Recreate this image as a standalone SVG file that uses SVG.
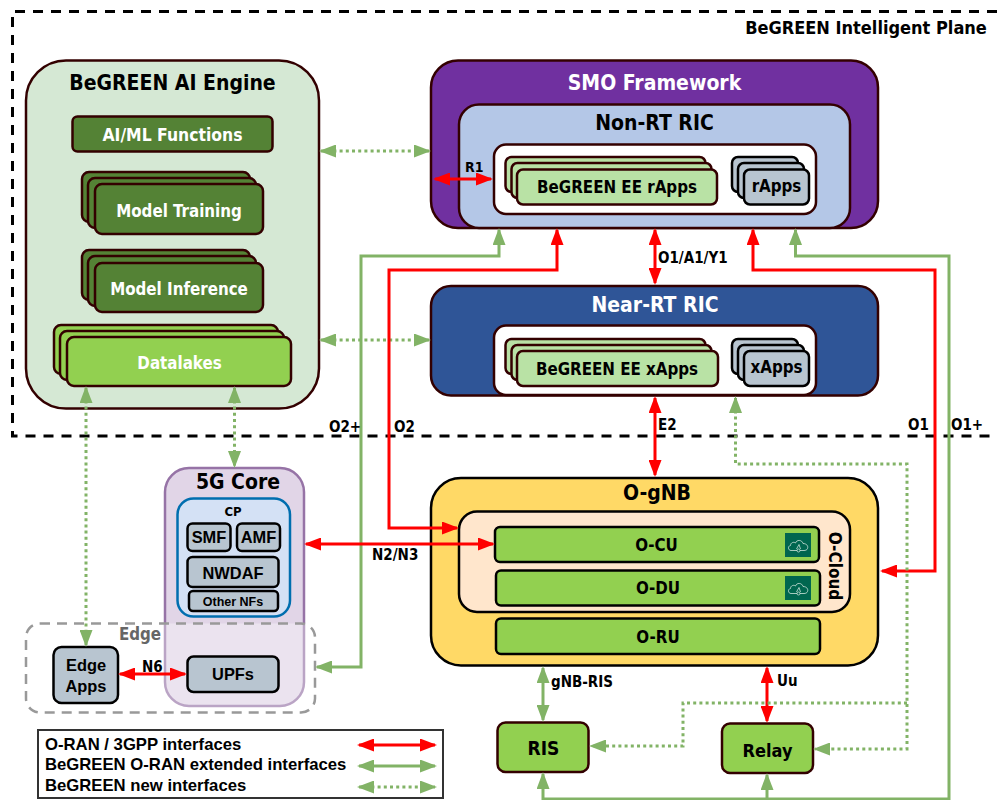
<svg xmlns="http://www.w3.org/2000/svg" width="997" height="800" viewBox="0 0 997 800">
<style>
text{font-family:"DejaVu Sans Condensed","DejaVu Sans",sans-serif;font-weight:700;text-anchor:middle;fill:#000;font-size:16.8px}
.ar{font-family:"Liberation Sans",Arial,sans-serif;font-size:16.4px}
.w{fill:#fff}
.h{font-size:21px}
.lb{font-size:15px;text-anchor:start}
.lg{font-size:16.7px;text-anchor:start}
.box{stroke:#330000;stroke-width:2.5}
.dk{fill:#548235}
.lt{fill:#92d050}
.pg{fill:#b9e2a5}
.gy{fill:#b8c5d0}
.bk{stroke:#000;stroke-width:2.5}
.c{fill:none;stroke-width:3}
.red{stroke:#ff0000;marker-start:url(#rh);marker-end:url(#rh)}
.grn{stroke:#82b366;marker-start:url(#gh);marker-end:url(#gh)}
.dot{stroke-dasharray:3 3.2}
</style>
<defs>
<marker id="rh" markerUnits="userSpaceOnUse" markerWidth="17" markerHeight="13" viewBox="0 0 17 13" refX="15" refY="6.500" orient="auto-start-reverse"><path d="M0 0L17 6.500L0 13Z" fill="#ff0000"/></marker>
<marker id="gh" markerUnits="userSpaceOnUse" markerWidth="17" markerHeight="13" viewBox="0 0 17 13" refX="15" refY="6.500" orient="auto-start-reverse"><path d="M0 0L17 6.500L0 13Z" fill="#82b366"/></marker>
<symbol id="cloud" viewBox="0 0 26 24"><rect width="26" height="24" fill="#00664f"/><path d="M6 17.500C3 17.500 2.500 13 5.500 12.500C5.500 9.500 9 8.500 10.500 10C11.500 6.500 17 6.500 18 10.500C21.500 10.500 23.500 13 22.500 15.500C22 17 20.500 17.500 19 17.500ZM11.500 16L14 11.500L15.500 16" fill="none" stroke="#cfe3da" stroke-width=".8"/><circle cx="13.500" cy="17.500" r="1.500" fill="#00664f" stroke="#cfe3da" stroke-width=".8"/></symbol>
</defs>
<rect width="997" height="800" fill="#fff"/>
<g id="boundary">
<path d="M997 11.500H12.500V436H997" fill="none" stroke="#000" stroke-width="3" stroke-dasharray="10 8"/>
<text x="866" y="34" style="font-size:18px">BeGREEN Intelligent Plane</text>
</g>
<g id="ai-engine">
<rect x="26" y="60.500" width="293" height="348" rx="40" fill="#d5e8d4" class="box"/>
<text class="h" x="172.500" y="90">BeGREEN AI Engine</text>
</g>
<g id="ai-ml-functions">
<rect x="72.500" y="116.500" width="200" height="35" rx="5" class="box dk"/>
<text class="w" x="172.500" y="141" style="font-size:17.400px">AI/ML Functions</text>
</g>
<g id="model-training">
<rect x="82" y="172" width="168" height="50" rx="7" class="box dk"/>
<rect x="88" y="178" width="168" height="50" rx="7" class="box dk"/>
<rect x="95" y="184" width="168" height="50" rx="7" class="box dk"/>
<text class="w" x="179" y="217">Model Training</text>
</g>
<g id="model-inference">
<rect x="82" y="250" width="168" height="50" rx="7" class="box dk"/>
<rect x="88" y="256" width="168" height="50" rx="7" class="box dk"/>
<rect x="95" y="263" width="168" height="49" rx="7" class="box dk"/>
<text class="w" x="179" y="295">Model Inference</text>
</g>
<g id="datalakes">
<rect x="54" y="325" width="224" height="49" rx="7" class="box lt"/>
<rect x="60" y="331" width="224" height="49" rx="7" class="box lt"/>
<rect x="67" y="337" width="224" height="49" rx="7" class="box lt"/>
<text class="w" x="179.500" y="369">Datalakes</text>
</g>
<g id="smo">
<rect x="431" y="60.500" width="447" height="167.500" rx="27" fill="#7030a0" class="box"/>
<text class="w h" x="654.500" y="90">SMO Framework</text>
</g>
<g id="non-rt-ric">
<rect x="459" y="104.500" width="391" height="123.500" rx="20" fill="#b4c7e7" class="box"/>
<text class="h" x="654.500" y="130">Non-RT RIC</text>
<rect x="494" y="144.500" width="322" height="69.500" rx="12" fill="#fff" class="box"/>
</g>
<g id="ee-rapps">
<rect x="505.500" y="157" width="200" height="35" rx="6" class="box pg"/>
<rect x="511.500" y="163" width="200" height="35" rx="6" class="box pg"/>
<rect x="517" y="169.500" width="200" height="35" rx="6" class="box pg"/>
<text x="617" y="193">BeGREEN EE rApps</text>
</g>
<g id="rapps">
<rect x="732" y="157" width="66" height="35" rx="6" class="bk gy"/>
<rect x="738" y="163" width="66" height="35" rx="6" class="bk gy"/>
<rect x="744" y="169.500" width="65" height="35" rx="6" class="bk gy"/>
<text x="776.500" y="192">rApps</text>
</g>
<g id="near-rt-ric">
<rect x="431" y="286" width="447" height="109.500" rx="20" fill="#2f5597" class="box"/>
<text class="w h" x="655" y="312">Near-RT RIC</text>
<rect x="494" y="325.500" width="322" height="69.500" rx="12" fill="#fff" class="box"/>
</g>
<g id="ee-xapps">
<rect x="505.500" y="339" width="200" height="35" rx="6" class="box pg"/>
<rect x="511.500" y="345" width="200" height="35" rx="6" class="box pg"/>
<rect x="517" y="351" width="201" height="35" rx="6" class="box pg"/>
<text x="617" y="375">BeGREEN EE xApps</text>
</g>
<g id="xapps">
<rect x="732" y="339" width="66" height="35" rx="6" class="bk gy"/>
<rect x="738" y="345" width="66" height="35" rx="6" class="bk gy"/>
<rect x="744" y="351" width="65" height="35" rx="6" class="bk gy"/>
<text x="776.500" y="373">xApps</text>
</g>
<g id="core-5g">
<rect x="165" y="468" width="139" height="238" rx="24" fill="#e1d5e7" stroke="#9673a6" stroke-width="2.500"/>
<text class="h" x="238" y="489">5G Core</text>
</g>
<g id="cp">
<rect x="177.500" y="498.500" width="112.500" height="118" rx="16" fill="#d4e1f5" stroke="#006eaf" stroke-width="2.500"/>
<text x="233" y="516" style="font-size:13px">CP</text>
</g>
<g id="smf"><rect x="187.500" y="523.500" width="43" height="27.500" rx="5" class="bk gy"/><text class="ar" x="209" y="543">SMF</text></g>
<g id="amf"><rect x="237" y="523.500" width="43" height="27.500" rx="5" class="bk gy"/><text class="ar" x="258.500" y="543">AMF</text></g>
<g id="nwdaf"><rect x="187.500" y="557" width="91" height="30" rx="5" class="bk gy"/><text class="ar" x="233" y="579">NWDAF</text></g>
<g id="other-nfs"><rect x="189" y="591" width="89" height="20" rx="4" class="bk gy"/><text class="ar" x="233" y="606" style="font-size:12.500px">Other NFs</text></g>
<g id="edge">
<rect x="26" y="623.500" width="289" height="89" rx="14" fill="#fff" fill-opacity=".35" stroke="#999" stroke-width="2.500" stroke-dasharray="10 7"/>
<text x="140" y="640" style="fill:#666">Edge</text>
</g>
<g id="upfs"><rect x="187.500" y="656.500" width="91" height="35.500" rx="6" class="bk gy"/><text class="ar" x="233" y="680">UPFs</text></g>
<g id="edge-apps"><rect x="53.500" y="647" width="64.500" height="56" rx="8" class="bk gy"/><text class="ar" x="86" y="671">Edge</text><text class="ar" x="86" y="692">Apps</text></g>
<g id="o-gnb">
<rect x="431" y="478" width="447" height="187.500" rx="30" fill="#ffd966" stroke="#000" stroke-width="2.500"/>
<text class="h" x="657" y="500">O-gNB</text>
</g>
<g id="o-cloud">
<rect x="459" y="511.500" width="391" height="100.500" rx="18" fill="#ffe6cc" stroke="#000" stroke-width="2.500"/>
<text transform="translate(829 566) rotate(90)" x="0" y="0" style="font-size:17px">O-Cloud</text>
</g>
<g id="o-cu"><rect x="495" y="527" width="324" height="35" rx="5" class="bk lt"/><text x="656.500" y="551">O-CU</text><use href="#cloud" x="785" y="533" width="26" height="24"/></g>
<g id="o-du"><rect x="496" y="570.500" width="324" height="35" rx="5" class="bk lt"/><text x="658" y="594">O-DU</text><use href="#cloud" x="785" y="576" width="26" height="24"/></g>
<g id="o-ru"><rect x="496" y="618.500" width="324" height="35.500" rx="5" class="bk lt"/><text x="658" y="643">O-RU</text></g>
<g id="ris"><rect x="497.500" y="722.500" width="91" height="49.500" rx="8" class="box lt"/><text x="543.500" y="755" style="font-size:19px">RIS</text></g>
<g id="relay"><rect x="722" y="723.500" width="91" height="49.500" rx="8" class="box lt"/><text x="767.500" y="757" style="font-size:18px">Relay</text></g>
<g id="connectors">
<path class="c grn dot" d="M321 151H429"/>
<path class="c grn dot" d="M321 340H429"/>
<path class="c grn dot" d="M86 388V645"/>
<path class="c grn dot" d="M234.500 388V466"/>
<path class="c grn" d="M317 667H361V256H499V230"/>
<path class="c grn" d="M795.500 230V256H949V799H543V774"/>
<path class="c" stroke="#82b366" style="marker-end:url(#gh)" d="M767 799V775"/>
<path class="c red" d="M457 528H389V270H557V230"/>
<path class="c red" d="M753 230V270H935V571H882"/>
<path class="c red" d="M306 544H493"/>
<path class="c red" d="M435 179H491"/>
<path class="c red" d="M655 230V283"/>
<path class="c red" d="M655 398V475"/>
<path class="c red" d="M120 674H185"/>
<path class="c red" d="M767 668V721"/>
<path class="c grn" d="M543 668V720"/>
<path class="c grn dot" d="M735.500 398V464H907V749H815"/>
<path class="c grn dot" style="marker-start:none" d="M907 703H683V746H591"/>
</g>
<g id="labels">
<text class="lb" x="465" y="172" style="font-size:14px">R1</text>
<text class="lb" x="658" y="263">O1/A1/Y1</text>
<text class="lb" x="658" y="430">E2</text>
<text class="lb" x="329" y="432">O2+</text>
<text class="lb" x="394" y="432">O2</text>
<text class="lb" x="908" y="430">O1</text>
<text class="lb" x="951" y="430">O1+</text>
<text class="lb" x="372" y="560">N2/N3</text>
<text class="lb" x="142" y="672">N6</text>
<text class="lb" x="551" y="687">gNB-RIS</text>
<text class="lb" x="777" y="686">Uu</text>
</g>
<g id="legend">
<rect x="38" y="730" width="405" height="68" fill="#fff" stroke="#333" stroke-width="2"/>
<text class="ar lg" x="45" y="750">O-RAN / 3GPP interfaces</text>
<text class="ar lg" x="45" y="770">BeGREEN O-RAN extended interfaces</text>
<text class="ar lg" x="45" y="791">BeGREEN new interfaces</text>
<path class="c red" d="M359 745H435"/>
<path class="c grn" d="M359 766H435"/>
<path class="c grn dot" d="M359 787H435"/>
</g>
</svg>
